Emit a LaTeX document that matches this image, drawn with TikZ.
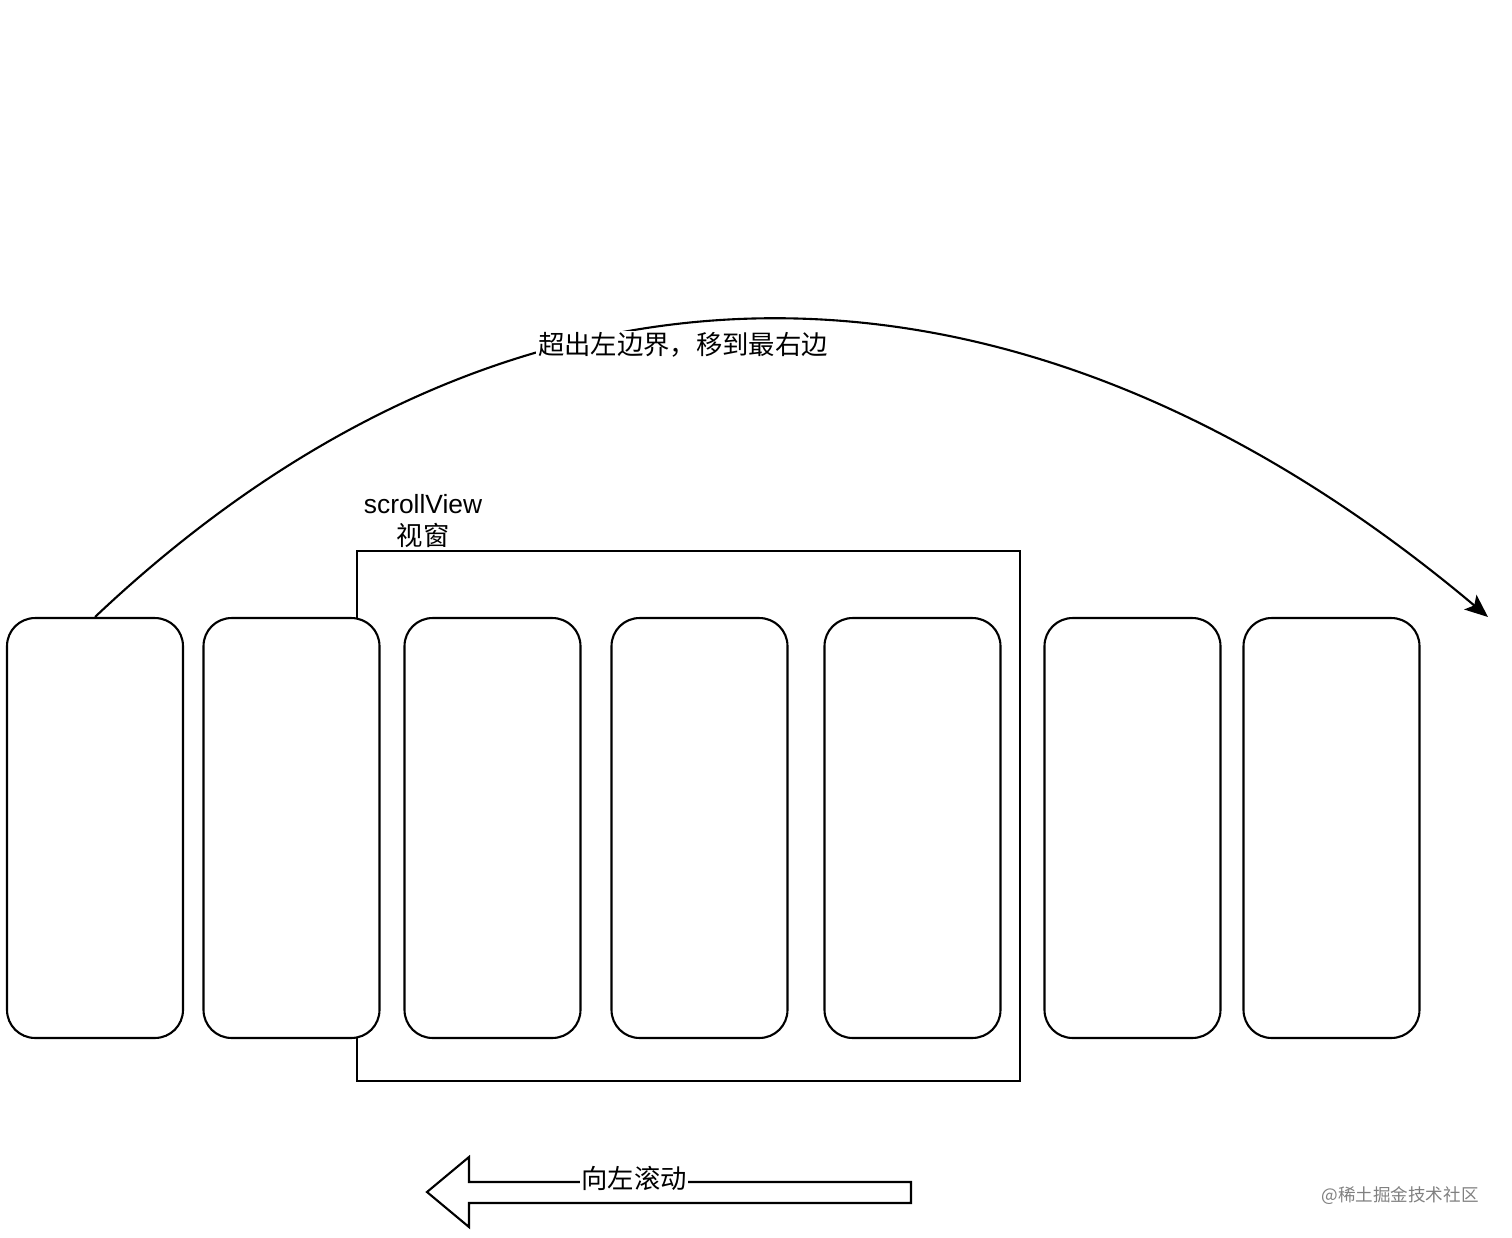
\documentclass[tikz,border=0pt]{standalone}
\usepackage{fontspec}
\setmainfont{Liberation Sans}
\newfontfamily\cjk{Noto Sans CJK SC}
\usetikzlibrary{arrows.meta}

\begin{document}
\begin{tikzpicture}[x=0.02cm, y=-0.02cm, >={Stealth[length=0.46cm, width=0.38cm, inset=0.1cm]}, line width=1.2pt]
	\tikzstyle{card}=[draw, fill=white, rounded corners=0.56cm, minimum width=3.52cm, minimum height=8.4cm, inner sep=0pt]
	\tikzstyle{lbl}=[font=\cjk\fontsize{15}{18.2}\selectfont, inner sep=1pt]
	\useasboundingbox (0,0) rectangle (1512,1238);
	% viewport behind the cards
	\node[draw, minimum width=13.26cm, minimum height=10.6cm, inner sep=0pt] (view) at (688.5,816) {};
	\node[lbl, align=center, font=\fontsize{15}{18.2}\selectfont] (viewlbl) at (423,521) {scrollView\\{\cjk 视窗}};
	\node[card] (c1) at (95,828) {};
	\node[card] (c2) at (291.5,828) {};
	\node[card] (c3) at (492.5,828) {};
	\node[card] (c4) at (699.5,828) {};
	\node[card] (c5) at (912.5,828) {};
	\node[card] (c6) at (1132.5,828) {};
	\node[card] (c7) at (1331.5,828) {};
	% jump to the right end
	\coordinate (tip) at (1488,617);
	\draw[->] (c1.north) .. controls (520,215) and (1023,226) .. (tip);
	\node[lbl, fill=white] (jump) at (683,345) {超出左边界，移到最右边};
	% scroll direction
	\draw (911,1182) -- (469,1182) -- (469,1157) -- (427,1192) -- (469,1227) -- (469,1203) -- (911,1203) -- cycle;
	\node[lbl, fill=white] (scroll) at (634,1178) {向左滚动};
	\node[font=\cjk\fontsize{10}{12}\selectfont, text=black!50] (mark) at (1400,1196) {@稀土掘金技术社区};
\end{tikzpicture}
\end{document}
